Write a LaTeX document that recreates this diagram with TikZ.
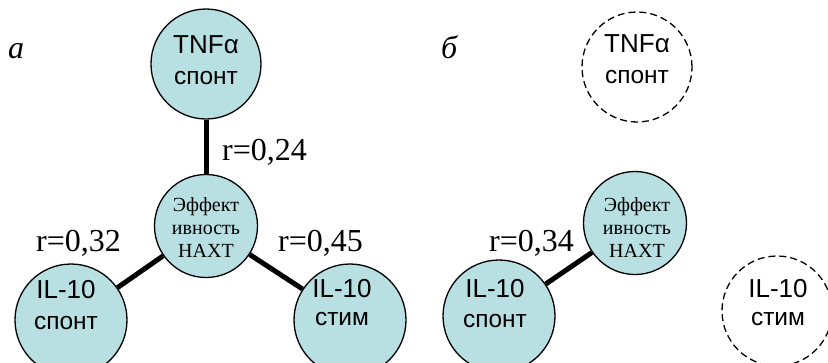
\documentclass[tikz,border=0pt]{standalone}
\usepackage{fontspec}
\setmainfont{Liberation Serif}
\newfontfamily\arialfam{Liberation Sans}
\definecolor{nodefill}{RGB}{184,223,226}
\newcommand{\topline}[1]{{\fontsize{26}{31}\selectfont #1}}
\begin{document}
\begin{tikzpicture}[x=1pt,y=-1pt,
  circ/.style={circle, draw=black, line width=1.3pt, fill=nodefill, minimum size=#1, inner sep=0pt},
  circ/.default=112pt,
  dcirc/.style={circle, draw=black, line width=1.3pt, dash pattern=on 7pt off 4pt, minimum size=110pt, inner sep=0pt},
  ctr/.style={circle, draw=black, line width=1.3pt, fill=nodefill, minimum size=103pt, inner sep=0pt},
  lab/.style={font=\arialfam\fontsize{24.5}{31}\selectfont, align=center, inner sep=0pt},
  clab/.style={font=\fontsize{20}{23}\selectfont, align=center, inner sep=0pt},
  rlab/.style={font=\fontsize{32}{32}\selectfont, inner sep=0pt, anchor=base west},
  plab/.style={font=\itshape\fontsize{32}{32}\selectfont, inner sep=0pt, anchor=base west},
  link/.style={line width=5pt},
]
\useasboundingbox (0,0) rectangle (828,362);
% panel a
\node[circ=110pt] (tnfA) at (206,64) {};
\node[ctr] (ctrA) at (206,226) {};
\node[circ] (ilsA) at (71,320) {};
\node[circ] (ilstA) at (350,320) {};
\draw[link] (tnfA) -- (ctrA);
\draw[link] (ctrA) -- (ilsA);
\draw[link] (ctrA) -- (ilstA);
\node[lab] (tnfAt) at (206,60) {\topline{TNFα}\\спонт};
\node[clab] (ctrAt) at (206,228) {Эффект\\ивность\\НАХТ};
\node[lab] (ilsAt) at (66,305.5) {\topline{IL-10}\\спонт};
\node[lab] (ilstAt) at (342,302.5) {\topline{IL-10}\\[-3pt]стим};
\node[rlab] (rA1) at (222,160) {r=0,24};
\node[rlab] (rA2) at (36,251) {r=0,32};
\node[rlab] (rA3) at (278,251) {r=0,45};
\node[plab] (pa) at (8,58) {а};
% panel b
\node[dcirc] (tnfB) at (637,67) {};
\node[ctr] (ctrB) at (635,223) {};
\node[circ] (ilsB) at (499,316) {};
\node[dcirc] (ilstB) at (777,311) {};
\draw[link] (ctrB) -- (ilsB);
\node[lab] (tnfBt) at (637,59) {\topline{TNFα}\\спонт};
\node[clab] (ctrBt) at (637,228) {Эффект\\ивность\\НАХТ};
\node[lab] (ilsBt) at (495,304) {\topline{IL-10}\\[-1pt]спонт};
\node[lab] (ilstBt) at (778,302.5) {\topline{IL-10}\\[-3pt]стим};
\node[rlab] (rB1) at (489,251) {r=0,34};
\node[plab] (pb) at (441,58) {б};
\end{tikzpicture}
\end{document}
